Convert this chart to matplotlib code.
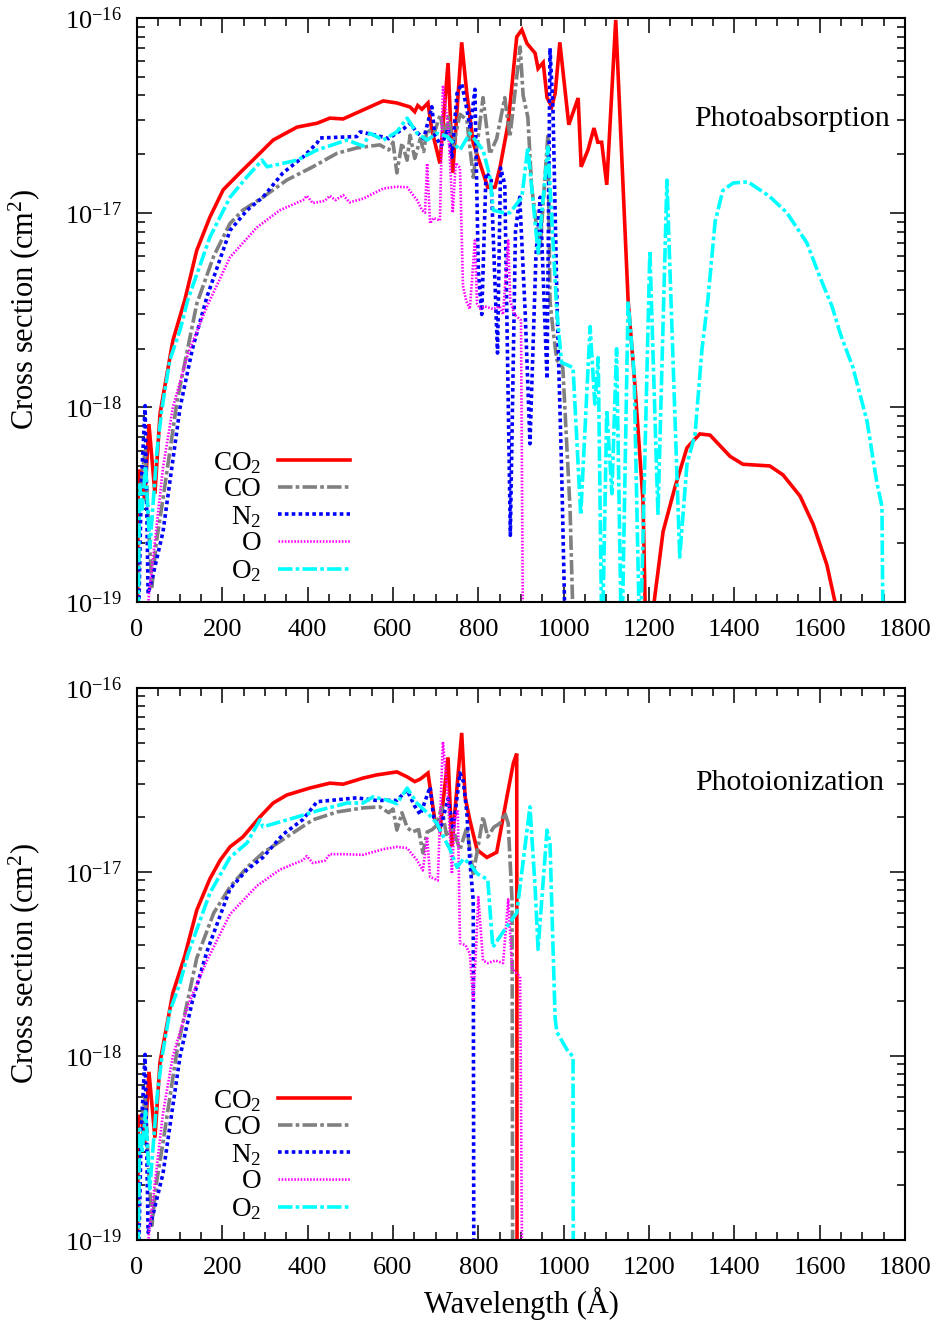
import numpy as np
import matplotlib
matplotlib.use("Agg")
import matplotlib.pyplot as plt
from matplotlib.ticker import FixedLocator, NullFormatter, FuncFormatter

plt.rcParams['font.family'] = ['Liberation Serif', 'DejaVu Serif']
plt.rcParams['mathtext.fontset'] = 'custom'
plt.rcParams['mathtext.rm'] = 'Liberation Serif'
plt.rcParams['mathtext.it'] = 'Liberation Serif:italic'
plt.rcParams['mathtext.bf'] = 'Liberation Serif:bold'

UNIT = 1e-18  # values below are in units of 1e-18 cm^2

# ---------------- Photoabsorption ----------------
abs_co2_x = [0.5, 3, 10, 18, 28, 42, 54, 84, 112, 140, 171, 202, 241, 288, 319, 375, 422, 452, 483, 530,
             577, 609, 640, 651, 658, 668, 682, 691, 710, 729, 740, 761, 773, 788, 804, 822, 839, 851, 870,
             890, 902, 914, 933, 940, 952, 961, 972, 980, 991, 1012, 1034, 1041, 1057, 1071, 1080, 1089,
             1101, 1122, 1151, 1167, 1186, 1200, 1212, 1233, 1261, 1289, 1319, 1343, 1390, 1420, 1483,
             1514, 1554, 1585, 1617, 1636, 1660]
abs_co2_y = [0.05, 0.47, 0.47, 0.33, 0.82, 0.36, 0.93, 2.2, 3.56, 6.4, 9.5, 13.1, 16.0, 20.2, 23.6, 27.5, 28.8,
             30.6, 30.3, 33.7, 37.5, 36.6, 34.9, 33.0, 35.5, 34.0, 36.6, 26.6, 17.9, 58.7, 16.0, 75.0, 41.0,
             22.8, 17.9, 13.5, 13.5, 17.2, 28.8, 80.0, 87.0, 74.0, 66.0, 55.0, 59.0, 39.0, 35.0, 41.0, 75.0,
             28.3, 38.8, 17.2, 21.0, 27.2, 23.0, 23.0, 13.9, 97.7, 3.56, 1.3, 0.33, 0.01, 0.1, 0.23, 0.39,
             0.62, 0.73, 0.72, 0.56, 0.51, 0.50, 0.45, 0.35, 0.25, 0.155, 0.1, 0.05]

abs_co_x = [1, 5, 12, 19, 27, 35, 45, 61, 94, 140, 180, 218, 248, 295, 351, 412, 469, 515, 569, 590, 600,
            609, 621, 633, 640, 651, 664, 672, 680, 695, 711, 720, 730, 741, 757, 773, 788, 811, 827, 843,
            862, 874, 898, 905, 916, 925, 935, 944, 955, 963, 968, 975, 984, 998, 1005, 1015, 1022]
abs_co_y = [0.05, 0.3, 0.45, 0.6, 0.25, 0.12, 0.2, 0.34, 1.08, 3.4, 6.0, 8.8, 10.3, 12.0, 14.7, 17.2, 20.2,
            21.5, 22.3, 21.0, 23.0, 16.0, 22.8, 18.6, 25.0, 19.0, 24.0, 20.6, 27.0, 25.0, 32.0, 24.0, 31.0,
            22.0, 32.0, 30.0, 15.2, 39.0, 20.0, 24.0, 39.0, 24.5, 71.0, 40.0, 31.0, 13.6, 9.0, 6.2, 14.0,
            25.0, 3.5, 2.5, 1.75, 1.6, 0.8, 0.3, 0.08]

abs_n2_x = [2, 10, 19, 26, 35, 61, 101, 130, 164, 218, 258, 295, 342, 389, 422, 429, 515, 523, 560, 590,
            609, 625, 640, 655, 672, 691, 698, 713, 729, 738, 750, 761, 773, 781, 792, 800, 808, 818, 830,
            845, 852, 862, 875, 887, 897, 910, 921, 935, 945, 961, 968, 975, 985, 995, 1005]
abs_n2_y = [0.05, 0.4, 1.02, 0.11, 0.13, 0.23, 1.0, 2.0, 3.7, 8.1, 10.3, 12.0, 16.0, 19.3, 22.8, 24.2, 24.6,
            26.0, 25.0, 24.0, 25.7, 27.0, 28.8, 26.0, 24.0, 35.0, 25.0, 22.0, 27.0, 19.3, 41.0, 46.0, 34.0,
            27.0, 43.0, 5.0, 3.0, 16.0, 15.0, 1.9, 17.0, 14.0, 0.22, 8.0, 12.0, 3.0, 0.65, 6.0, 12.0, 1.4,
            70.0, 34.0, 3.0, 0.5, 0.05]

abs_o_x = [18, 28, 38, 61, 84, 120, 164, 218, 281, 335, 389, 398, 412, 422, 440, 452, 465, 483, 498, 530,
           577, 609, 633, 656, 668, 675, 680, 687, 695, 710, 717, 729, 740, 747, 757, 764, 772, 780, 792,
           797, 805, 815, 835, 850, 858, 870, 875, 885, 900, 905]
abs_o_y = [0.05, 0.11, 0.17, 0.49, 1.0, 1.9, 3.3, 5.9, 8.4, 10.3, 11.6, 12.2, 11.2, 11.3, 11.5, 12.2, 11.6,
           12.3, 11.3, 11.8, 13.3, 13.6, 13.5, 11.6, 10.3, 10.0, 17.9, 8.8, 9.4, 9.1, 45.0, 28.0, 10.0, 18.0,
           17.0, 4.2, 3.5, 3.2, 7.2, 3.4, 3.2, 3.3, 3.2, 3.3, 3.0, 7.2, 3.5, 3.0, 2.8, 0.05]

abs_o2_x = [2, 6, 12, 20, 30, 47, 58, 77, 101, 119, 171, 218, 258, 293, 305, 375, 422, 492, 530, 546, 577,
            609, 633, 656, 680, 703, 727, 757, 780, 811, 827, 835, 858, 874, 902, 916, 940, 963, 984, 995,
            1022, 1040, 1062, 1073, 1081, 1090, 1101, 1113, 1124, 1136, 1151, 1165, 1179, 1202, 1221, 1242,
            1272, 1289, 1308, 1324, 1338, 1355, 1373, 1397, 1432, 1483, 1523, 1570, 1600, 1629, 1648, 1678,
            1711, 1734, 1746, 1749]
abs_o2_y = [0.05, 0.4, 0.3, 0.5, 0.19, 0.6, 0.97, 1.75, 2.5, 3.56, 7.5, 12.0, 15.3, 18.6, 17.2, 18.6, 21.0,
            23.6, 22.0, 25.6, 23.6, 26.0, 30.6, 25.6, 23.6, 25.6, 24.6, 21.0, 25.6, 21.0, 15.3, 10.3, 10.0,
            10.0, 12.0, 21.7, 6.2, 21.7, 3.1, 1.7, 1.6, 0.28, 2.6, 1.04, 1.8, 0.05, 0.97, 0.36, 2.0, 0.05,
            3.5, 1.5, 0.05, 6.4, 0.28, 14.7, 0.17, 0.51, 0.73, 1.97, 3.56, 9.0, 13.0, 14.2, 14.4, 12.1, 10.0,
            7.0, 4.7, 3.3, 2.4, 1.6, 0.85, 0.41, 0.31, 0.05]

# ---------------- Photoionization ----------------
ion_co2_x = [0.5, 3, 10, 18, 28, 42, 54, 84, 112, 140, 171, 195, 218, 248, 288, 319, 351, 405, 452, 483,
             530, 562, 609, 633, 651, 664, 682, 698, 710, 729, 738, 761, 769, 780, 797, 820, 843, 867, 882,
             890, 891]
ion_co2_y = [0.05, 0.47, 0.47, 0.33, 0.82, 0.36, 0.93, 2.2, 3.5, 6.2, 9.2, 11.6, 13.7, 15.5, 19.9, 23.7,
             26.2, 28.6, 30.4, 30.0, 32.4, 33.7, 35.0, 32.9, 31.0, 32.0, 34.5, 19.2, 16.9, 42.0, 13.7, 57.0,
             25.6, 19.2, 13.2, 12.0, 12.8, 25.6, 39.0, 44.0, 0.01]

ion_co_x = [1, 5, 12, 19, 27, 35, 45, 61, 94, 140, 180, 218, 258, 295, 351, 412, 469, 530, 569, 590, 600,
            609, 621, 633, 645, 660, 670, 680, 692, 703, 714, 725, 741, 757, 773, 788, 800, 811, 822, 836,
            851, 862, 870, 879, 881]
ion_co_y = [0.05, 0.3, 0.45, 0.6, 0.25, 0.12, 0.2, 0.34, 1.08, 3.4, 6.0, 8.3, 10.6, 12.7, 15.5, 19.2, 21.2,
            22.3, 22.6, 21.0, 22.0, 16.9, 21.0, 17.5, 16.5, 17.0, 12.7, 16.5, 17.0, 18.0, 22.6, 16.0, 17.0,
            13.2, 17.5, 9.8, 14.0, 20.0, 15.5, 17.5, 18.4, 21.0, 18.4, 7.0, 0.01]

ion_n2_x = [2, 10, 19, 26, 35, 61, 101, 130, 164, 218, 258, 295, 342, 389, 422, 515, 560, 609, 633, 650,
            664, 687, 695, 710, 729, 741, 757, 765, 773, 780, 788, 790]
ion_n2_y = [0.05, 0.4, 1.02, 0.11, 0.13, 0.23, 1.0, 2.0, 3.7, 8.1, 10.3, 12.0, 16.0, 19.3, 24.1, 25.3, 24.5,
            24.5, 27.9, 23.0, 20.5, 29.0, 20.0, 16.9, 25.0, 17.0, 34.5, 31.0, 21.0, 11.6, 7.0, 0.01]

ion_o_x = [18, 28, 38, 61, 84, 120, 164, 218, 281, 335, 389, 398, 412, 440, 452, 483, 530, 577, 609, 633,
           656, 670, 680, 687, 705, 717, 729, 738, 745, 752, 757, 770, 780, 788, 795, 800, 811, 822, 840,
           858, 870, 879, 890, 898, 905]
ion_o_y = [0.05, 0.11, 0.17, 0.49, 1.0, 1.9, 3.3, 5.9, 8.4, 10.3, 11.6, 12.2, 11.2, 11.5, 12.5, 12.5, 12.4,
           13.3, 13.7, 13.5, 11.6, 10.2, 15.5, 9.4, 9.0, 51.0, 25.0, 9.8, 20.0, 21.7, 4.1, 4.0, 3.6, 2.0,
           4.0, 7.3, 3.3, 3.2, 3.3, 3.2, 7.1, 3.0, 2.8, 2.7, 0.01]

ion_o2_x = [2, 6, 12, 20, 30, 47, 58, 77, 101, 119, 171, 218, 258, 288, 295, 375, 422, 492, 530, 553, 586,
            609, 633, 656, 680, 703, 719, 734, 750, 765, 780, 797, 822, 834, 860, 890, 921, 933, 940, 961,
            968, 975, 980, 984, 1008, 1022, 1023]
ion_o2_y = [0.05, 0.4, 0.3, 0.5, 0.19, 0.6, 0.97, 1.75, 2.5, 3.56, 7.7, 12.0, 14.4, 19.2, 17.6, 19.9, 21.5,
            23.7, 23.7, 25.6, 24.6, 23.5, 28.6, 23.7, 21.0, 18.4, 15.4, 13.2, 10.6, 11.8, 11.1, 9.8, 9.1,
            3.9, 4.8, 6.0, 22.6, 8.3, 3.8, 16.9, 14.4, 3.9, 1.6, 1.35, 1.08, 0.99, 0.01]

species = ['CO$_2$', 'CO', 'N$_2$', 'O', 'O$_2$']
x_ticks = [0, 200, 400, 600, 800, 1000, 1200, 1400, 1600, 1800]
y_ticks = [1e-19, 1e-18, 1e-17, 1e-16]

styles = [
    dict(color='#ff0000', lw=2.6, ls='-'),
    dict(color='#808080', lw=2.6, dashes=(4.0, 0.9, 1.0, 0.9)),
    dict(color='#0000ff', lw=2.6, dashes=(1.0, 0.9)),
    dict(color='#ff00ff', lw=1.9, dashes=(0.6, 0.6)),
    dict(color='#00ffff', lw=2.6, dashes=(4.0, 0.9, 1.0, 0.9)),
]

panels = [
    dict(rect=[137/938, 1-602/1324, 768/938, 584/1324], title='Photoabsorption', tx=0.98,
         data=[(abs_co2_x, abs_co2_y), (abs_co_x, abs_co_y), (abs_n2_x, abs_n2_y),
               (abs_o_x, abs_o_y), (abs_o2_x, abs_o2_y)], xlabel=False, h=584),
    dict(rect=[137/938, 1-1240/1324, 768/938, 552/1324], title='Photoionization', tx=0.973,
         data=[(ion_co2_x, ion_co2_y), (ion_co_x, ion_co_y), (ion_n2_x, ion_n2_y),
               (ion_o_x, ion_o_y), (ion_o2_x, ion_o2_y)], xlabel=True, h=552),
]

fig = plt.figure(figsize=(9.38, 13.24), dpi=100)

def logfmt(v, pos):
    e = int(round(np.log10(v)))
    return r'$10^{%d}$' % e

minor_y = [m * 10.0 ** e for e in range(-19, -16) for m in range(2, 10)]

for p in panels:
    ax = fig.add_axes(p['rect'])
    for (xs, ys), lab, st in zip(p['data'], species, styles):
        ax.plot(xs, np.array(ys) * UNIT, label=lab, solid_joinstyle='miter', **st)
    ax.set_yscale('log')
    ax.set_xlim(0, 1800)
    ax.set_ylim(1e-19, 1e-16)
    ax.xaxis.set_major_locator(FixedLocator(x_ticks))
    ax.xaxis.set_minor_locator(FixedLocator(np.arange(0, 1801, 50)))
    ax.yaxis.set_major_locator(FixedLocator(y_ticks))
    ax.yaxis.set_minor_locator(FixedLocator(minor_y))
    ax.yaxis.set_minor_formatter(NullFormatter())
    ax.yaxis.set_major_formatter(FuncFormatter(logfmt))
    ax.tick_params(which='both', direction='in', top=True, right=True, width=1.1, labelsize=19)
    ax.tick_params(which='major', length=11)
    ax.tick_params(which='minor', length=6)
    ax.tick_params(axis='x', pad=12)
    ax.tick_params(axis='y', pad=11)
    for s in ax.spines.values():
        s.set_linewidth(1.5)
    ax.set_ylabel('Cross section (cm$^2$)', fontsize=22)
    ax.yaxis.set_label_coords(-0.124, 0.5)
    if p['xlabel']:
        ax.set_xlabel('Wavelength (Å)', fontsize=22)
        ax.xaxis.set_label_coords(0.5, -0.085)
    ax.text(p['tx'], 0.827, p['title'], transform=ax.transAxes, ha='right', va='center', fontsize=21.5)
    leg = ax.legend(loc='lower right', bbox_to_anchor=(0.277, 18 / p['h']), markerfirst=False, frameon=False,
                    fontsize=19.5, handlelength=2.65, handletextpad=0.6, labelspacing=0.06,
                    borderaxespad=0, borderpad=0)

fig.savefig('out.png', dpi=100)
